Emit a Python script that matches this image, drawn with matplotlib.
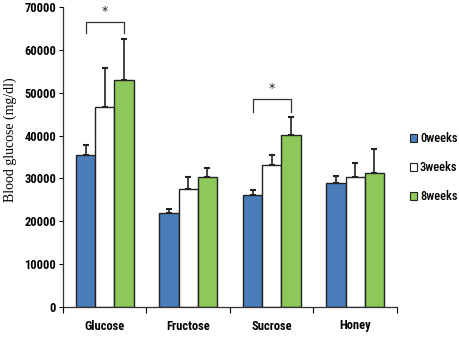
import matplotlib
matplotlib.use("Agg")
import matplotlib.pyplot as plt
import numpy as np

categories = ["Glucose", "Fructose", "Sucrose", "Honey"]
series_names = ["0weeks", "3weeks", "8weeks"]
means_0w = [35500, 22000, 26100, 29000]
means_3w = [46700, 27600, 33100, 30400]
means_8w = [53000, 30300, 40100, 31200]
err_0w = [2300, 950, 1200, 1500]
err_3w = [9100, 2650, 2400, 3300]
err_8w = [9500, 2200, 4200, 5600]
yticks = [0, 10000, 20000, 30000, 40000, 50000, 60000, 70000]
# significance brackets: (category index, from series, to series, bracket top, leg bottom)
sig_brackets = [(0, 0, 2, 66500, 64000), (2, 0, 2, 48500, 45500)]

colors = ["#4a7ebb", "#ffffff", "#8cc95a"]
font_narrow = ["Roboto Condensed", "Liberation Sans Narrow", "DejaVu Sans"]

fig = plt.figure(figsize=(4.6, 3.37), dpi=100)
ax = fig.add_axes([63/460, 30/337, 334/460, 300/337])

x = np.arange(len(categories)) + 0.5
w = 0.23
offsets = [-w, 0, w]
all_means = [means_0w, means_3w, means_8w]
all_errs = [err_0w, err_3w, err_8w]
for i in range(3):
    ax.bar(x + offsets[i], all_means[i], width=w, color=colors[i],
           edgecolor="#222222", linewidth=1.0, label=series_names[i], zorder=2)
    ax.errorbar(x + offsets[i], all_means[i], yerr=[np.zeros(4), all_errs[i]],
                fmt="none", ecolor="#222222", elinewidth=1.2, capsize=2.5,
                capthick=1.5, zorder=1)

for ci, s1, s2, top, bot in sig_brackets:
    x1 = x[ci] + offsets[s1]
    x2 = x[ci] + offsets[s2]
    ax.plot([x1, x1, x2, x2], [bot, top, top, bot], color="#333333", lw=0.9,
            zorder=3)
    ax.text((x1 + x2) / 2, top + 900, "*", ha="center", va="bottom",
            fontsize=9, color="#222222")

ax.set_xlim(0, 4)
ax.set_ylim(0, 70000)
ax.set_yticks(yticks)
ax.set_yticklabels([str(v) for v in yticks], family=font_narrow,
                   fontweight="bold", fontsize=9)
ax.set_xticks([0, 1, 2, 3, 4])
ax.set_xticklabels([])
ax.set_xticks(x, minor=True)
ax.set_xticklabels(categories, minor=True, family=font_narrow,
                   fontweight="semibold", fontsize=9)
ax.tick_params(axis="x", which="minor", length=0, pad=9)
ax.tick_params(axis="x", which="major", length=4, width=0.8, direction="out")
ax.tick_params(axis="y", length=3, width=0.8, direction="out", pad=2)
for s in ["top", "right"]:
    ax.spines[s].set_visible(False)
for s in ["left", "bottom"]:
    ax.spines[s].set_linewidth(0.9)
    ax.spines[s].set_color("#333333")

fig.text(10/460, 1 - 140/337, "Blood glucose (mg/dl)", rotation=90, ha="center",
         va="center", family=["Liberation Serif", "DejaVu Serif"], fontsize=10)

leg = ax.legend(loc="upper left", bbox_to_anchor=((405 - 63) / 334, 0.6),
                frameon=False, handlelength=0.6, handleheight=0.6,
                handletextpad=0.2, labelspacing=1.3, borderaxespad=0,
                prop={"family": font_narrow, "size": 9, "weight": "medium"})
for h in leg.legend_handles:
    h.set_linewidth(0.8)

fig.savefig("out.png", dpi=100)
